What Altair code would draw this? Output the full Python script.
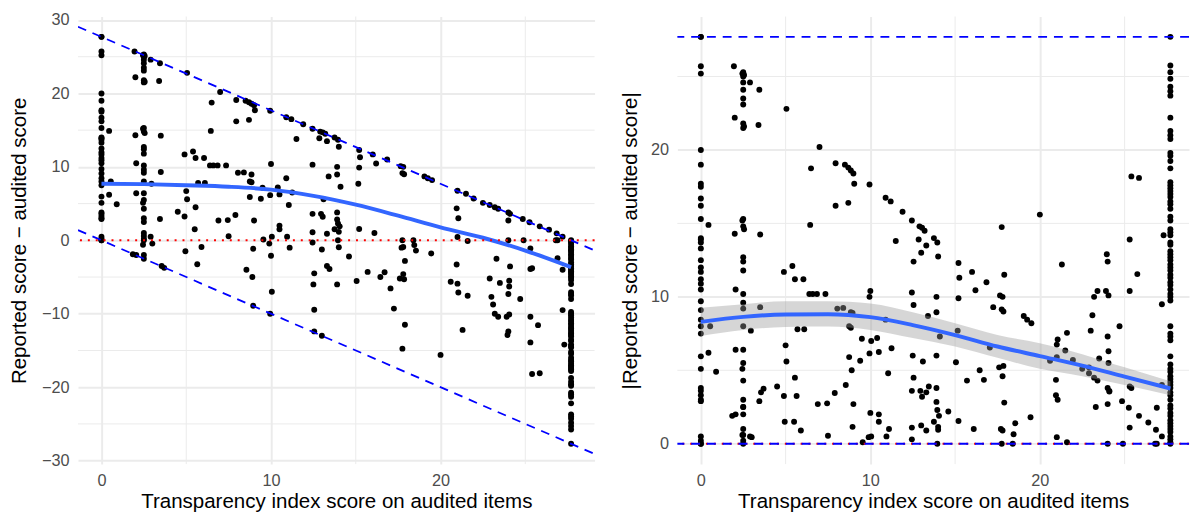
import altair as alt
import pandas as pd

# ---------------- data ----------------
MAX_SCORE = 27.7

# points sitting on x = 0 (reported - audited)
col0_d = [27.7, 27.7, 25.7, 25.2, 20.0, 19.0, 17.7, 17.5, 16.7, 16.2, 15.3, 14.0, 13.9,
          13.7, 13.3, 12.5, 12.0, 11.7, 11.2, 10.9, 10.5, 9.7, 9.1, 8.45, 8.0, 7.5, 5.95,
          5.1, 3.8, 3.6, 3.3, 3.0, 2.9, 0.5, 0.2, 0.0, 0.0]

# |difference| of points sitting on x = max score (all are <= 0)
colmax_abs = [27.7, 25.75, 25.3, 24.85, 24.3, 24.0, 23.7, 22.2, 21.3, 21.0, 20.75, 19.8,
              19.6, 19.25, 18.75, 17.8, 17.6, 17.4, 17.2, 17.0, 16.8, 16.5, 16.3, 16.0,
              15.45, 15.2, 14.6, 14.4, 14.2, 13.7, 13.55, 13.1, 12.9, 12.7, 12.5, 12.2,
              12.0, 11.8, 11.5, 11.3, 11.0, 10.8, 10.5, 10.2, 10.0, 9.75, 8.0, 7.5, 7.3,
              7.05, 5.95, 5.4, 5.1, 4.9, 4.6, 4.4, 4.2, 4.0, 3.8, 3.5, 3.3, 3.0, 2.6, 2.4,
              2.1, 1.9, 1.6, 1.4, 1.2, 1.0, 0.8, 0.5, 0.3, 0.1, 0.0]

# all other points: transparency score and reported - audited
other_x = [
    0.45, 0.55, 0.45, 0.9,
    1.95, 2.0, 2.0, 2.05, 2.05, 1.85, 2.05,
    2.5, 2.45, 2.55, 2.5, 2.5, 2.5, 2.5, 2.5, 2.5, 2.55, 2.5, 2.5, 2.45, 2.5, 2.55,
    2.5, 2.5, 2.5, 2.5, 2.5, 2.5, 2.5, 2.5, 2.5, 2.45, 2.5, 2.5, 2.5, 2.5, 2.5, 2.5,
    2.5, 2.45, 2.5, 2.5,
    2.9, 2.95, 2.9, 3.0,
    3.45, 3.4, 3.5, 3.5, 3.45, 3.55, 3.7,
    4.5, 4.9, 4.9, 5.05, 5.0, 5.05, 4.95, 5.5, 5.4, 5.55, 5.55, 5.7, 6.05, 6.1, 5.9, 5.65,
    6.5, 7.0, 6.45, 6.4, 6.6, 6.85, 7.35, 6.9, 7.45, 7.5, 7.9, 7.95, 7.95,
    8.5, 8.7, 8.85, 9.0, 9.05, 8.7, 8.05, 8.4, 8.85, 8.75, 8.85, 8.75, 9.4, 9.0, 8.95,
    8.55, 8.9, 8.95,
    9.95, 9.5, 9.95, 10.4, 10.5, 10.05, 10.0, 9.55, 10.05, 9.9, 10.0, 10.5, 10.5, 10.95,
    11.1, 9.95, 10.9, 11.05, 11.25, 10.9, 11.2, 11.5,
    11.9, 12.45, 12.9, 13.05, 13.2, 12.85, 13.3, 13.75, 13.95, 14.0,
    12.45, 13.4, 13.9, 13.9, 14.1, 13.1, 12.45, 12.95, 13.05, 13.9, 13.9, 13.95, 14.05,
    13.75, 14.0, 13.3, 12.45, 13.95,
    12.45, 13.0, 14.0, 13.3, 13.45, 12.55, 12.5, 13.9, 12.55, 12.55, 13.0,
    15.2, 16.0, 16.85, 15.25, 16.2, 15.2, 15.15, 15.2, 16.1, 14.6, 15.05, 15.7, 16.45,
    16.7, 17.05, 17.25,
    17.65, 17.8, 17.75, 17.85, 19.05, 19.25, 19.5, 17.9, 17.75, 17.6, 17.85, 17.8, 17.9,
    17.7, 17.8, 17.75, 18.4, 18.45, 18.55, 19.45,
    20.0, 21.0, 21.5, 21.95, 20.6, 21.0, 21.3, 21.6, 21.05, 20.95, 21.05, 20.95, 21.0, 21.6,
    22.5, 22.9, 23.2, 23.4, 24.0, 24.1,
    22.9, 23.0, 23.1, 23.2, 23.4, 23.9, 24.05, 23.95, 24.0, 24.0, 24.05, 24.05, 23.5, 24.0,
    23.3, 24.0, 24.1,
    24.7, 24.85, 25.25, 25.85, 26.4, 26.85, 27.2, 24.9, 26.8, 26.9, 25.3, 25.3, 25.4, 25.3,
    25.75, 25.3, 25.4, 25.85, 26.9, 27.2, 27.2, 27.3,
]
other_d = [
    14.9, 8.0, 6.2, 4.9,
    25.7, 22.2, 14.3, 10.5, 6.4, -1.9, -2.0,
    25.3, 25.2, 25.1, 25.0, 24.6, 24.1, 23.5, 23.1, 21.8, 21.6, 21.5, 15.3, 15.2, 14.8,
    14.6, 12.7, 12.4, 11.8, 10.2, 9.6, 9.2, 8.0, 6.4, 5.5, 5.1, 4.3, 3.0, 2.5, 1.0, 0.6,
    0.2, 0.0, -0.6, -2.0, -2.5,
    24.6, 7.7, 0.5, -0.45,
    24.1, 21.7, 14.25, 9.3, 2.9, -3.5, -3.75,
    3.9, 3.25, 11.7, 22.8, 6.7, 5.6, -1.5, 1.5, 12.1, 11.2, 4.5, 7.8, 11.2, 7.8, -0.9, -3.25,
    18.75, 20.2, 14.9, 10.2, 10.2, 10.2, 10.2, 2.7, 2.75, 0.55, 3.45, 19.1, 16.2,
    19.0, 18.8, 18.6, 18.4, 17.7, 16.4, 9.2, 9.25, 8.95, 8.0, 7.9, 5.9, 5.65, 2.7, -1.15,
    -4.0, -5.0, -8.9,
    17.65, 7.15, 6.15, 7.2, 6.25, -7.0, 10.4, 0.1, 0.5, -0.45, -2.1, 2.0, 1.5, 0.5,
    -1.0, -10.0, 8.45, 4.8, 6.5, 16.75, 16.5, 13.8,
    15.8, 15.2, 14.8, 14.7, 14.5, 13.9, 13.5, 14.0, 13.7, 12.75,
    10.3, 8.7, 10.0, 8.95, 7.3, 5.6, 3.6, 3.6, 3.2, 3.8, 2.85, 2.3, 1.9,
    1.5, 1.15, 0.9, 1.1, 0.0,
    -0.3, -1.25, -0.95, -3.5, -3.9, -4.5, -6.0, -6.0, -9.45, -12.4, -13.0,
    12.3, 11.7, 11.0, 11.3, 10.45, 9.9, 7.7, 1.55, 1.0, -2.2, -5.55, -4.3, -5.0,
    -4.35, -6.55, -9.3,
    10.1, 10.0, 9.15, 9.0, 8.7, 8.45, 8.2, -11.5, -14.75, -5.2, -5.3, -4.6, -2.8,
    -1.0, -0.9, 0.0, 0.0, -0.65, -1.4, -1.8,
    -15.6, 6.75, 6.35, 5.7, -5.65, -5.9, -12.2, -7.55, -7.1, 4.35, 3.0, -3.3, 0.45, -0.1,
    5.1, 4.8, 4.5, 4.3, 3.8, 3.6,
    -5.2, -7.7, -8.75, -10.0, -10.4, -10.4, -10.1, -12.9, -12.4, -7.3, -6.3, -5.5, -5.8, 2.7,
    -2.5, 0.0, -3.55,
    -8.0, 2.9, 2.45, 1.9, 1.45, 0.95, 0.5, 0.0, 0.0, 0.0, -1.1, -3.9, -3.8, -10.4,
    -11.55, -13.9, -18.2, -18.1, -2.45, -4.0, -9.5, -14.2,
]

# loess smooth
left_smooth_x = [0, 2.5, 5, 7.5, 10, 12.5, 15, 17.5, 20, 22.5, 25, 27.7]
left_smooth_y = [7.7, 7.65, 7.5, 7.3, 6.9, 6.05, 4.85, 3.35, 1.75, 0.35, -1.4, -3.65]

right_smooth_x = [0, 2.5, 5, 7.5, 10, 12.5, 15, 17.5, 20, 22.5, 25, 27.7]
right_smooth_y = [8.3, 8.64, 8.8, 8.82, 8.62, 8.08, 7.4, 6.62, 5.97, 5.32, 4.57, 3.76]
right_band_lo = [7.34, 7.75, 7.95, 7.98, 7.75, 7.2, 6.62, 5.85, 5.1, 4.6, 4.0, 3.3]
right_band_hi = [9.26, 9.5, 9.7, 9.7, 9.55, 8.95, 8.2, 7.4, 6.85, 6.1, 5.2, 4.25]

x_major = [0, 10, 20]
x_minor = [5, 15, 25]
yl_major = [-30, -20, -10, 0, 10, 20, 30]
yl_minor = [-25, -15, -5, 5, 15, 25]
yr_major = [0, 10, 20]
yr_minor = [5, 15, 25]

X_TITLE = "Transparency index score on audited items"
YL_TITLE = "Reported score \u2212 audited score"
YR_TITLE = "|Reported score \u2212 audited score|"

# ---------------- tables ----------------
xs = [0.0] * len(col0_d) + [MAX_SCORE] * len(colmax_abs) + other_x
ds = col0_d + [-v for v in colmax_abs] + other_d
pts = pd.DataFrame({"x": xs, "d": ds})
pts["ad"] = pts["d"].abs()

pad = 0.05 * MAX_SCORE            # 5 % expansion of a 0..max range
xl_dom = [-pad, MAX_SCORE + pad]
xr_dom = [-pad, MAX_SCORE + 1.1]
yl_dom = [-(MAX_SCORE + 2 * pad), MAX_SCORE + 2 * pad]   # range is -max..max
yr_dom = [-pad, MAX_SCORE + pad]

upper = pd.DataFrame({"x": xl_dom, "y": [MAX_SCORE - v for v in xl_dom]})
lower = pd.DataFrame({"x": xl_dom, "y": [-v for v in xl_dom]})
lsm = pd.DataFrame({"x": left_smooth_x, "y": left_smooth_y})
rsm = pd.DataFrame({"x": right_smooth_x, "y": right_smooth_y,
                    "lo": right_band_lo, "hi": right_band_hi})

GRID = "#EBEBEB"
BLUE_SMOOTH = "#3366FF"
W_L, W_R, H = 524, 519, 454
PT = 36
DASH = [9, 7]


def make_panel(xdom, ydom, ymajor, yminor, ytitle, yfield, ytp, extra):
    xaxis = alt.Axis(values=x_major, title=X_TITLE, grid=True)
    yaxis = alt.Axis(values=ymajor, title=ytitle, grid=True, titlePadding=ytp)
    xs_ = alt.Scale(domain=xdom, nice=False, zero=False)
    ys_ = alt.Scale(domain=ydom, nice=False, zero=False)

    def X(f):
        return alt.X(f"{f}:Q", scale=xs_, axis=xaxis)

    def Y(f):
        return alt.Y(f"{f}:Q", scale=ys_, axis=yaxis)

    layers = [
        alt.Chart(pd.DataFrame({"g": x_minor})).mark_rule(
            color=GRID, strokeWidth=1).encode(x=X("g")),
        alt.Chart(pd.DataFrame({"g": yminor})).mark_rule(
            color=GRID, strokeWidth=1).encode(y=Y("g")),
        alt.Chart(pts).mark_circle(size=PT, color="black", opacity=1).encode(
            x=X("x"), y=Y(yfield)),
    ]
    layers += extra(X, Y)
    return layers


def left_extra(X, Y):
    return [
        alt.Chart(lsm).mark_line(color=BLUE_SMOOTH, strokeWidth=4,
                                 interpolate="monotone").encode(x=X("x"), y=Y("y")),
        alt.Chart(upper).mark_line(color="blue", strokeWidth=1.8, strokeDash=DASH,
                                   clip=True).encode(x=X("x"), y=Y("y")),
        alt.Chart(lower).mark_line(color="blue", strokeWidth=1.8, strokeDash=DASH,
                                   clip=True).encode(x=X("x"), y=Y("y")),
        alt.Chart(pd.DataFrame({"h": [0]})).mark_rule(
            color="red", strokeWidth=2, strokeDash=[2, 6]).encode(y=Y("h")),
    ]


def right_extra(X, Y):
    return [
        alt.Chart(rsm).mark_area(color="#999999", opacity=0.4,
                                 interpolate="monotone").encode(
            x=X("x"), y=Y("lo"), y2="hi:Q"),
        alt.Chart(rsm).mark_line(color=BLUE_SMOOTH, strokeWidth=4,
                                 interpolate="monotone").encode(x=X("x"), y=Y("y")),
        alt.Chart(pd.DataFrame({"h": [0]})).mark_rule(
            color="red", strokeWidth=2, strokeDash=[2, 6]).encode(y=Y("h")),
        alt.Chart(pd.DataFrame({"h": [0, MAX_SCORE]})).mark_rule(
            color="blue", strokeWidth=1.8, strokeDash=DASH).encode(y=Y("h")),
    ]


left = alt.layer(*make_panel(xl_dom, yl_dom, yl_major, yl_minor, YL_TITLE, "d", 12,
                             left_extra)).properties(width=W_L, height=H)
right = alt.layer(*make_panel(xr_dom, yr_dom, yr_major, yr_minor, YR_TITLE, "ad", 10,
                              right_extra)).properties(width=W_R, height=H)

chart = alt.hconcat(left, right, spacing=24).properties(
    padding={"left": 1, "top": 0, "right": 0, "bottom": 0}
).configure_view(stroke=None).configure_axis(
    ticks=False, domain=False, gridColor=GRID, gridWidth=2,
    labelFont="Liberation Sans", labelFontSize=16.5, labelColor="#4D4D4D",
    titleFont="Liberation Sans", titleFontSize=20.8, titleFontWeight="normal",
    titleColor="#000000",
).configure_axisX(labelPadding=9, titlePadding=3).configure_axisY(labelPadding=9)

chart.save("out.html", embed_options={"renderer": "svg", "actions": False})
